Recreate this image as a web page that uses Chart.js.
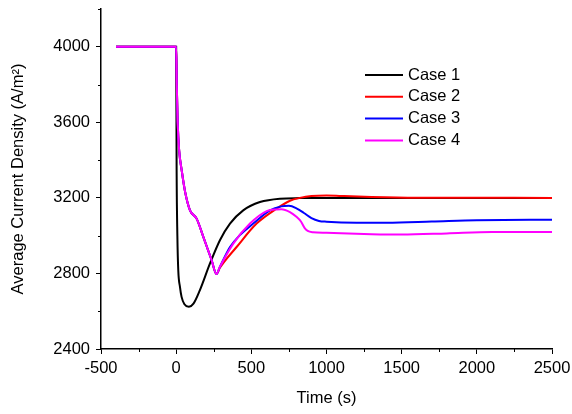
<!DOCTYPE html>
<html lang="en">

<head>
  <meta charset="UTF-8" />
  <title>Average Current Density</title>
  <script src="https://cdn.jsdelivr.net/npm/chart.js"></script>
  <style>
    html,
    body {
      margin: 0;
      padding: 0;
      background: #fff;
    }
  </style>
</head>

<body>
  <canvas id="myChart01" width="572" height="414"></canvas>
  <script>
    // data (time in s, density in A/m2)
    const case1Time = [-400, 0, 3, 8, 14, 25, 36, 55, 85, 115, 158, 225, 291, 358, 446, 557, 690, 823, 1000, 2500];
    const case1Value = [4000, 4000, 3350, 3000, 2817, 2730, 2676, 2637, 2624, 2640, 2712, 2853, 2976, 3064, 3134, 3178, 3196, 3199, 3200, 3200];

    const case2Time = [-400, 0, 4, 10, 20, 37, 60, 92, 136, 180, 236, 268, 291, 402, 535, 668, 757, 823, 900, 1000, 1100, 1300, 1600, 2500];
    const case2Value = [4000, 4000, 3800, 3600, 3450, 3345, 3230, 3134, 3090, 2995, 2870, 2797, 2830, 2940, 3064, 3143, 3185, 3200, 3210, 3213, 3210, 3205, 3201, 3200];

    const case3Time = [-400, 0, 4, 10, 20, 37, 60, 92, 136, 180, 236, 268, 291, 358, 420, 513, 624, 700, 750, 800, 850, 900, 950, 1000, 1200, 1400, 1700, 2000, 2500];
    const case3Value = [4000, 4000, 3800, 3600, 3450, 3345, 3230, 3134, 3090, 2995, 2870, 2797, 2835, 2940, 3000, 3064, 3134, 3155, 3158, 3145, 3120, 3093, 3078, 3074, 3069, 3069, 3075, 3082, 3084];

    const case4Time = [-400, 0, 4, 10, 20, 37, 60, 92, 136, 180, 236, 268, 291, 380, 491, 602, 668, 700, 757, 800, 830, 855, 875, 910, 1000, 1300, 1500, 1800, 2100, 2500];
    const case4Value = [4000, 4000, 3800, 3600, 3450, 3345, 3230, 3134, 3090, 2995, 2870, 2797, 2835, 2958, 3064, 3130, 3139, 3140, 3125, 3100, 3075, 3040, 3025, 3018, 3015, 3008, 3006, 3012, 3019, 3020];

    const caseLabels = ["Case 1", "Case 2", "Case 3", "Case 4"];
    const caseColors = ["#000000", "#ff0000", "#0000ff", "#ff00ff"];

    const xTicks = [-500, -250, 0, 250, 500, 750, 1000, 1250, 1500, 1750, 2000, 2250, 2500];
    const xLabelTicks = [-500, 0, 500, 1000, 1500, 2000, 2500];
    const yTicks = [2400, 2600, 2800, 3000, 3200, 3400, 3600, 3800, 4000, 4200];
    const yLabelTicks = [2400, 2800, 3200, 3600, 4000];

    function toPoints(t, v) {
      return t.map((x, i) => ({ x: x, y: v[i] }));
    }

    const FONT = "'Liberation Sans', Arial, sans-serif";
    Chart.defaults.font.family = FONT;
    Chart.defaults.font.size = 16.5;
    Chart.defaults.color = "#000";

    // short minor ticks (major ones come from the grid)
    const minorTicks = {
      id: "minorTicks",
      afterDraw(chart) {
        const ctx = chart.ctx;
        const xs = chart.scales.x;
        const ys = chart.scales.y;
        ctx.save();
        ctx.strokeStyle = "#000";
        ctx.lineWidth = 1;
        xTicks.forEach((v) => {
          if (xLabelTicks.includes(v)) return;
          const px = Math.round(xs.getPixelForValue(v)) + 0.5;
          ctx.beginPath();
          ctx.moveTo(px, ys.bottom);
          ctx.lineTo(px, ys.bottom + 3);
          ctx.stroke();
        });
        yTicks.forEach((v) => {
          if (yLabelTicks.includes(v)) return;
          const py = Math.round(ys.getPixelForValue(v)) + 0.5;
          ctx.beginPath();
          ctx.moveTo(xs.left, py);
          ctx.lineTo(xs.left - 3, py);
          ctx.stroke();
        });
        ctx.restore();
      },
    };

    // legend inside the plot, top right
    const innerLegend = {
      id: "innerLegend",
      afterDraw(chart) {
        const ctx = chart.ctx;
        ctx.save();
        ctx.font = "16.5px " + FONT;
        ctx.textBaseline = "middle";
        ctx.fillStyle = "#000";
        chart.data.datasets.forEach((ds, i) => {
          const y = 75 + i * 21.8;
          ctx.strokeStyle = ds.borderColor;
          ctx.lineWidth = 2;
          ctx.beginPath();
          ctx.moveTo(365, y);
          ctx.lineTo(403, y);
          ctx.stroke();
          ctx.fillText(ds.label, 408, y);
        });
        ctx.restore();
      },
    };

    const allTimes = [case1Time, case2Time, case3Time, case4Time];
    const allValues = [case1Value, case2Value, case3Value, case4Value];

    const ctx01 = document.getElementById("myChart01");
    const mychart01 = new Chart(ctx01, {
      type: "line",
      data: {
        datasets: caseLabels.map((label, i) => ({
          label: label,
          data: toPoints(allTimes[i], allValues[i]),
          borderColor: caseColors[i],
          backgroundColor: caseColors[i],
          borderWidth: 2,
          pointRadius: 0,
          cubicInterpolationMode: "monotone",
          order: 4 - i, // Case 4 on top
        })),
      },
      options: {
        responsive: false,
        animation: false,
        devicePixelRatio: 1,
        layout: {
          padding: { top: 9, right: 20, left: 0, bottom: 0 },
        },
        plugins: {
          legend: { display: false },
          tooltip: { enabled: false },
        },
        scales: {
          x: {
            type: "linear",
            min: -500,
            max: 2500,
            afterBuildTicks: (scale) => {
              scale.ticks = xTicks.map((v) => ({ value: v }));
            },
            afterFit: (scale) => {
              scale.height = 65;
              scale.paddingLeft = 0;
              scale.paddingRight = 0;
            },
            ticks: {
              autoSkip: false,
              maxRotation: 0,
              padding: 5,
              callback: (v) => (xLabelTicks.includes(v) ? String(v) : null),
            },
            grid: {
              drawOnChartArea: false,
              drawTicks: true,
              tickLength: 5,
              tickColor: "#000",
            },
            border: { display: true, color: "#000", width: 1.5 },
            title: {
              display: true,
              text: "Time (s)",
              padding: { top: 0, bottom: 6 },
            },
          },
          y: {
            min: 2400,
            max: 4200,
            afterBuildTicks: (scale) => {
              scale.ticks = yTicks.map((v) => ({ value: v }));
            },
            afterFit: (scale) => {
              scale.width = 101;
              scale.paddingTop = 0;
              scale.paddingBottom = 0;
            },
            ticks: {
              autoSkip: false,
              padding: 6,
              callback: (v) => (yLabelTicks.includes(v) ? String(v) : null),
            },
            grid: {
              drawOnChartArea: false,
              drawTicks: true,
              tickLength: 5,
              tickColor: "#000",
            },
            border: { display: true, color: "#000", width: 1.5 },
            title: {
              display: true,
              text: "Average Current Density (A/m²)",
              padding: { top: 9, bottom: 0 },
            },
          },
        },
      },
      plugins: [minorTicks, innerLegend],
    });
  </script>
</body>

</html>
